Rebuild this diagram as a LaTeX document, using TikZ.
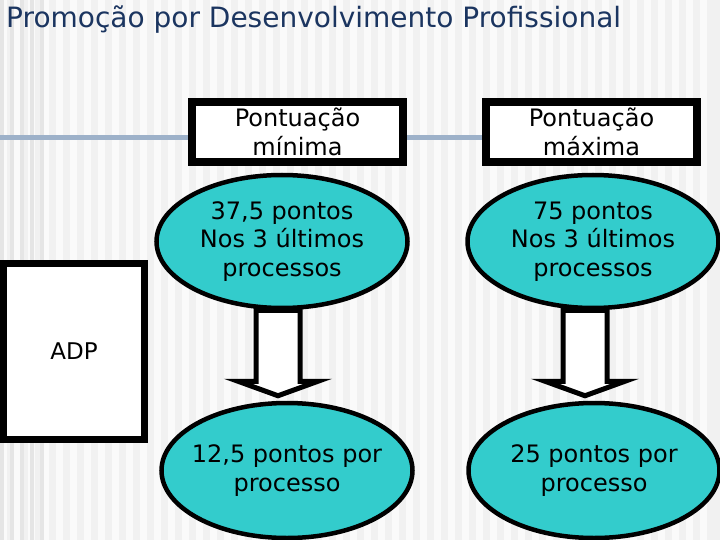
\documentclass[tikz,border=0pt]{standalone}
\usepackage{fontspec}
\setmainfont{DejaVu Sans}
\usetikzlibrary{shapes.geometric, calc}
\definecolor{slide}{HTML}{F1F1F1}
\definecolor{titleblue}{HTML}{1B3560}
\definecolor{pointfill}{HTML}{33CCCC}
\definecolor{linkline}{HTML}{9DB1C9}

\pgfdeclarelayer{back}
\pgfsetlayers{back,main}

\begin{document}
\begin{tikzpicture}[x=1pt, y=-1pt,
    labelbox/.style={rectangle, draw=black, line width=8pt, fill=white, minimum width=211pt, minimum height=60pt, inner sep=0pt, align=center, font=\fontsize{24}{29}\selectfont},
    adpbox/.style={rectangle, draw=black, line width=7pt, fill=white, minimum width=141pt, minimum height=176pt, inner sep=0pt, font=\fontsize{23}{28}\selectfont},
    points/.style={ellipse, draw=black, line width=4.5pt, fill=pointfill, minimum width=251pt, minimum height=133pt, inner sep=-8pt, align=center, font=\fontsize{24}{28.5}\selectfont},
    blockarrow/.style={draw=black, line width=5pt, fill=white, line join=miter},
    link/.style={linkline, line width=5pt}
  ]

    \useasboundingbox (0,0) rectangle (720,540);

    % slide background
    \begin{pgfonlayer}{back}
      \fill[slide] (0,0) rectangle (720,540);
      \foreach \x in {0,14,...,706}
        \fill[white, opacity=0.7] (\x,0) rectangle ++(7,540);
      \foreach \x in {0,10,20,30,40}
        \fill[gray!20] (\x,0) rectangle ++(4,540);
    \end{pgfonlayer}

    \node[anchor=west, inner sep=0pt, text=titleblue, font=\fontsize{28}{32}\selectfont] (title) at (6,20) {Promoção por Desenvolvimento Profissional};

    \node[labelbox] (minBox) at (297.5,132) {Pontuação\\mínima};
    \node[labelbox] (maxBox) at (591.5,132) {Pontuação\\máxima};

    \node[adpbox] (adp) at (74,351.5) {ADP};

    \node[points] (minTop) at (282,241.5) {37,5 pontos\\Nos 3 últimos\\processos};
    \node[points] (maxTop) at (593,241.5) {75 pontos\\Nos 3 últimos\\processos};
    \node[points, minimum height=135pt] (minBot) at (287,470.5) {12,5 pontos por\\processo};
    \node[points, minimum height=135pt] (maxBot) at (594,470.5) {25 pontos por\\processo};

    \begin{pgfonlayer}{back}
      \coordinate (lineStart) at (0,138);
      \draw[link] (lineStart) -- (minBox.west |- lineStart);
      \draw[link] (minBox.east |- lineStart) -- (maxBox.west |- lineStart);

      % block arrows between the ellipses
      \foreach \col/\dx in {min/-4, max/-8} {
        \coordinate (\col Tail) at ($(\col Top.south)+(\dx,0)$);
        \draw[blockarrow] ($(\col Tail)+(-22,0)$) -- ++(0,71) -- ++(-18,0)
          -- ($(\col Tail |- \col Bot.north)+(0,-5)$)
          -- ($(\col Tail)+(40,71)$) -- ++(-18,0) -- ++(0,-71) -- cycle;
      }
    \end{pgfonlayer}

  \end{tikzpicture}
\end{document}
